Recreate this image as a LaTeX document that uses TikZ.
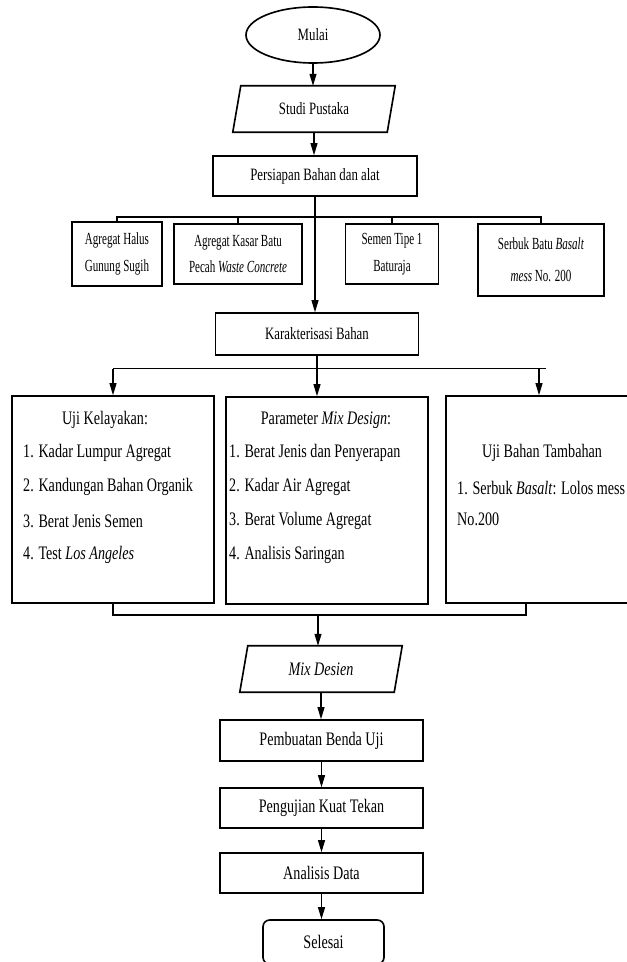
\documentclass[tikz,border=0pt]{standalone}
\usepackage{fontspec}
\setmainfont{Liberation Serif}[FakeStretch=0.74]
\newfontfamily\narrowfont{Liberation Serif}[FakeStretch=0.65]
\usetikzlibrary{arrows.meta,calc,positioning,shapes.geometric}
\newcommand{\unitpx}{0.3mm}
\tikzset{
  flowbox/.style={draw=black,line width=1.4pt,fill=white,inner sep=0pt},
  parabox/.style={draw=none,inner sep=0pt,minimum width=162*\unitpx,minimum height=46*\unitpx},
  topfont/.style={font=\fontsize{14.8}{17}\selectfont},
  mainfont/.style={font=\fontsize{16.3}{19}\selectfont},
  matfont/.style={font=\narrowfont\fontsize{14.5}{23}\selectfont,align=center},
  listline/.style={anchor=west,inner sep=0pt,font=\fontsize{16.3}{19}\selectfont},
  link/.style={line width=0.9pt,draw=black},
  flowarrow/.style={-{Triangle[length=3.6mm,width=2.1mm]},line width=0.9pt,draw=black}
}

\begin{document}
\begin{tikzpicture}[x=0.3mm,y=-0.3mm]
  \useasboundingbox (0,0) rectangle (627,962);
  % alur atas
  \node[flowbox,ellipse,topfont,minimum width=134*\unitpx,minimum height=56*\unitpx] (mulai) at (313,35) {Mulai};
  \node[parabox,topfont] (studi) at (314,109) {Studi Pustaka};
  \node[flowbox,topfont,minimum width=204*\unitpx,minimum height=40*\unitpx] (persiapan) at (315,176) {Persiapan Bahan dan alat};
  \draw[flowarrow] (mulai.south) -- (mulai.south |- studi.north);
  \draw[flowarrow] (studi.south) -- (studi.south |- persiapan.north);

  % bahan
  \node[flowbox,matfont,minimum width=90*\unitpx,minimum height=64*\unitpx] (halus) at (117,254) {Agregat Halus\\Gunung Sugih};
  \node[flowbox,matfont,minimum width=128*\unitpx,minimum height=60*\unitpx] (kasar) at (238,254) {Agregat Kasar Batu\\Pecah \textit{Waste Concrete}};
  \node[flowbox,matfont,minimum width=93*\unitpx,minimum height=60*\unitpx] (semen) at (392,254) {Semen Tipe 1\\Baturaja};
  \node[flowbox,matfont,minimum width=126*\unitpx,minimum height=72*\unitpx] (serbuk) at (541,260) {Serbuk Batu \textit{Basalt}\\[4pt]\textit{mess} No. 200};
  \coordinate (bus1) at (315,217);
  \draw[link] (halus.north) |- (bus1) -| (serbuk.north);
  \foreach \m in {kasar,semen}{\draw[link] (\m.north) -- (\m.north |- bus1);}

  \node[flowbox,topfont,minimum width=203*\unitpx,minimum height=42*\unitpx] (karakter) at (317,334) {Karakterisasi Bahan};
  \draw[flowarrow] (persiapan.south) -- (persiapan.south |- karakter.north);

  % pengujian bahan
  \node[flowbox,minimum width=202*\unitpx,minimum height=207*\unitpx] (kelayakan) at (113,499.5) {};
  \node[flowbox,minimum width=202*\unitpx,minimum height=207*\unitpx] (parameter) at (327,500.5) {};
  \node[flowbox,minimum width=200*\unitpx,minimum height=207*\unitpx] (tambahan) at (546,499.5) {};
  \coordinate (bus2) at ($(karakter.south)+(0,13)$);
  \draw[link] (karakter.south) -- (bus2);
  \draw[link] (bus2 -| kelayakan.north) -- (bus2 -| tambahan.north);
  \draw[flowarrow] (bus2 -| kelayakan.north) -- (kelayakan.north);
  \draw[flowarrow] (bus2) -- (bus2 |- parameter.north);
  \draw[flowarrow] ($(bus2 -| tambahan.north)+(-7,0)$) -- ($(tambahan.north)+(-7,0)$);

  \node[mainfont] (kelayakanT) at (105,420) {Uji Kelayakan:};
  \foreach \t [count=\i] in {Kadar Lumpur Agregat,Kandungan Bahan Organik,Berat Jenis Semen,Test \textit{Los Angeles}}
    {\node[listline] (kelayakan\i) at (23,{419+34*\i}) {\i. \t};}
  \node[mainfont] (parameterT) at (326,420) {Parameter \textit{Mix Design}:};
  \foreach \t [count=\i] in {Berat Jenis dan Penyerapan,Kadar Air Agregat,Berat Volume Agregat,Analisis Saringan}
    {\node[listline] (parameter\i) at (229,{419+34*\i}) {\i. \t};}
  \node[mainfont] (tambahanT) at (542,453) {Uji Bahan Tambahan};
  \node[listline] (tambahan1) at (457,488) {1. Serbuk \textit{Basalt}: Lolos mess};
  \node[listline] (tambahan2) at (457,519) {No.200};

  % alur bawah
  \node[parabox,mainfont] (mix) at (321,669) {\textit{Mix Desien}};
  \foreach \p in {studi,mix}
    {\draw[line width=1.4pt] (\p.south west) -- ($(\p.north west)+(8,0)$) -- (\p.north east) -- ($(\p.south east)+(-8,0)$) -- cycle;}
  \coordinate (bus3) at (318,615);
  \draw[link] (kelayakan.south) |- (bus3) -| ($(tambahan.south)+(-20,0)$);
  \draw[flowarrow] (bus3) -- (bus3 |- mix.north);

  \node[flowbox,mainfont,minimum width=203*\unitpx,minimum height=41*\unitpx] (pembuatan) at (321.5,740.5) {Pembuatan Benda Uji};
  \node[flowbox,mainfont,minimum width=203*\unitpx,minimum height=40*\unitpx] (pengujian) at (321.5,808) {Pengujian Kuat Tekan};
  \node[flowbox,mainfont,minimum width=203*\unitpx,minimum height=40*\unitpx] (analisis) at (321.5,873) {Analisis Data};
  \node[flowbox,mainfont,rounded corners=2mm,minimum width=121*\unitpx,minimum height=44*\unitpx] (selesai) at (323.5,942) {Selesai};
  \foreach \a/\b in {mix/pembuatan,pembuatan/pengujian,pengujian/analisis,analisis/selesai}
    {\draw[flowarrow] (\a.south) -- (\a.south |- \b.north);}
\end{tikzpicture}
\end{document}
